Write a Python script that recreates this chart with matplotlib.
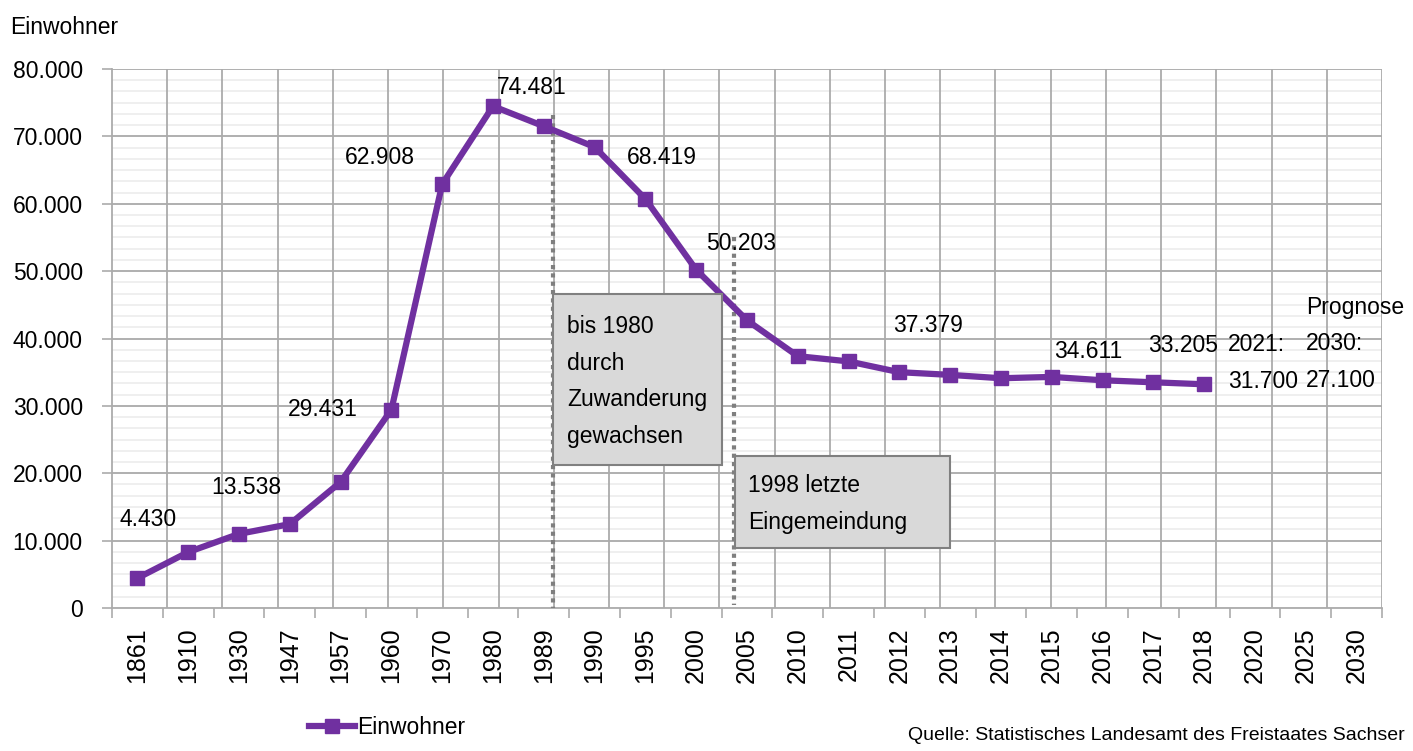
import matplotlib
matplotlib.use("Agg")
import matplotlib.pyplot as plt
from matplotlib.patches import Rectangle
from matplotlib.ticker import FuncFormatter, MultipleLocator, FixedLocator
from matplotlib import font_manager
import numpy as np

# ---- data ----
years = ["1861", "1910", "1930", "1947", "1957", "1960", "1970", "1980", "1989",
         "1990", "1995", "2000", "2005", "2010", "2011", "2012", "2013", "2014",
         "2015", "2016", "2017", "2018", "2020", "2025", "2030"]
einwohner = [4430, 8300, 11000, 12450, 18700, 29431, 62908, 74481, 71500,
             68419, 60700, 50203, 42700, 37379, 36600, 35000, 34600, 34100,
             34300, 33800, 33500, 33205, None, None, None]
label_texts = ["4.430", "13.538", "29.431", "62.908", "74.481", "68.419",
               "50.203", "37.379", "34.611", "33.205", "2021:\n31.700",
               "Prognose\n2030:\n27.100"]
box_texts = ["bis 1980\ndurch\nZuwanderung\ngewachsen", "1998 letzte\nEingemeindung"]
series_name = "Einwohner"
source_text = "Quelle: Statistisches Landesamt des Freistaates Sachser"

# ---- font selection ----
names = {f.name for f in font_manager.fontManager.ttflist}
if "Liberation Sans Narrow" in names:
    plt.rcParams['font.family'] = ['Liberation Sans Narrow', 'DejaVu Sans']
    fs, fs_x, fs_src, lsp = 20, 23, 17, 1.47
else:
    plt.rcParams['font.family'] = ['Liberation Sans', 'DejaVu Sans']
    fs, fs_x, fs_src, lsp = 16.5, 18, 14, 1.75

W, H = 1413, 751
fig = plt.figure(figsize=(W / 100, H / 100), dpi=100)
L, R, B, T = 112, 1382, 608, 69
ax = fig.add_axes([L / W, 1 - B / H, (R - L) / W, (B - T) / H])

n = len(years)
ax.set_xlim(-0.5, n - 0.5)
ax.set_ylim(0, 80000)

def dx(px):
    return -0.5 + (px - L) / (R - L) * n

def dy(py):
    return (B - py) / (B - T) * 80000

purple = "#7030a0"
gridc = "#ababab"
minorc = "#ececec"

for v in np.arange(0, 80001, 10000 / 6):
    ax.axhline(v, color=minorc, lw=1.2, zorder=0)
for v in range(10000, 80001, 10000):
    ax.axhline(v, color=gridc, lw=1.3, zorder=1)
for k in range(1, 24):
    ax.axvline(-0.5 + k * n / 23, color=gridc, lw=1.3, zorder=1)

xs = np.arange(n)
ys = np.array([np.nan if v is None else v for v in einwohner], dtype=float)
line, = ax.plot(xs, ys, color=purple, lw=4.5, marker='s', ms=10.5,
                solid_joinstyle='miter', zorder=5, label=series_name)

ax.set_xticks(xs)
ax.set_xticklabels(years, rotation=90, fontsize=fs_x)
ax.tick_params(axis='x', which='major', length=0, pad=14)
ax.xaxis.set_minor_locator(FixedLocator(np.arange(-0.5, n, 1.0)))
ax.tick_params(axis='x', which='minor', length=7, color=gridc, width=1.2)
ax.yaxis.set_major_locator(MultipleLocator(10000))
ax.yaxis.set_major_formatter(FuncFormatter(lambda v, p: f"{int(v):,}".replace(",", ".")))
ax.tick_params(axis='y', length=7, color=gridc, width=1.2, labelsize=fs, pad=14)

for s in ['top', 'right']:
    ax.spines[s].set_visible(False)
for s in ['left', 'bottom']:
    ax.spines[s].set_color(gridc)
    ax.spines[s].set_linewidth(1.3)

dot = dict(color="#7f7f7f", lw=3, ls=(0, (1, 1)), zorder=4)
ax.plot([dx(553), dx(553)], [dy(115), 0], **dot)
ax.plot([dx(734), dx(734)], [dy(237), dy(605)], **dot)

def box(x0, y0, x1, y1, text, tx, ty):
    ax.add_patch(Rectangle((dx(x0), dy(y1)), dx(x1) - dx(x0), dy(y0) - dy(y1),
                           facecolor="#d9d9d9", edgecolor="#808080", lw=1.5, zorder=6))
    ax.text(dx(tx), dy(ty), text, fontsize=fs, ha='left', va='top',
            linespacing=lsp, zorder=7)

box(553, 294, 722, 465, box_texts[0], 567, 315)
box(735, 456, 950, 548, box_texts[1], 748, 474)

pos = [(148, 520), (246, 488), (323, 410), (380, 157), (532, 88), (662, 157),
       (741, 243), (928, 326), (1088, 352), (1183, 345)]
for (px, py), t in zip(pos, label_texts[:10]):
    ax.text(dx(px), dy(py), t, fontsize=fs, ha='center', va='center', zorder=7)
ax.text(dx(1228), dy(363), label_texts[10], fontsize=fs, ha='left', va='center',
        linespacing=lsp, zorder=7)
ax.text(dx(1306), dy(344), label_texts[11], fontsize=fs, ha='left', va='center',
        linespacing=lsp, zorder=7)

fig.text(10 / W, 1 - 27 / H, "Einwohner", fontsize=fs, ha='left', va='center')

fig.legend(handles=[line], loc='center left', bbox_to_anchor=(309 / W, 1 - 728 / H),
           frameon=False, fontsize=fs, handlelength=2.0, handletextpad=0.1,
           borderaxespad=0, borderpad=0)

fig.text(1405 / W, 1 - 735 / H, source_text, fontsize=fs_src, ha='right', va='center')

fig.savefig("out.png", dpi=100)
